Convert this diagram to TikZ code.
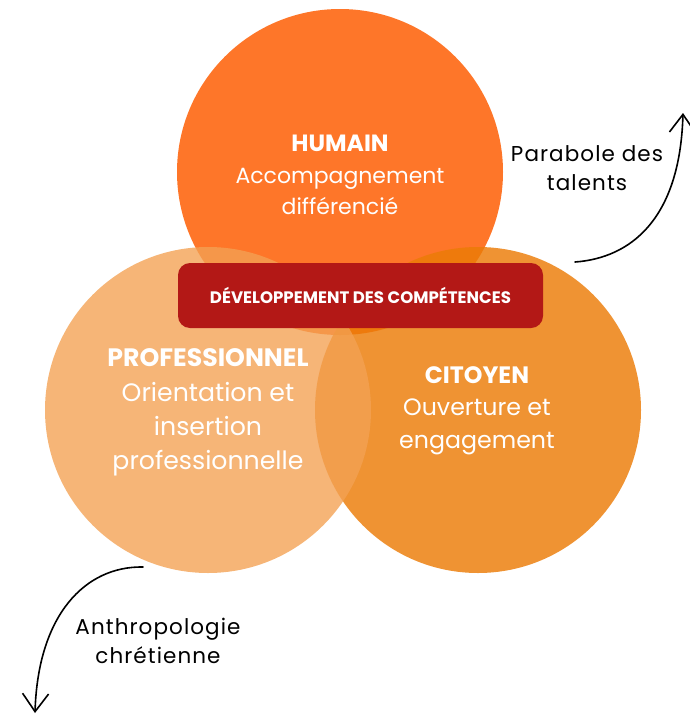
\documentclass[tikz,border=0pt]{standalone}
\usepackage{fontspec}
\setmainfont{Poppins}
\usetikzlibrary{arrows.meta}
\definecolor{humain-orange}{HTML}{FE7629}
\definecolor{citoyen-orange}{HTML}{EB7B06}
\definecolor{pro-peach}{HTML}{F3A153}
\definecolor{banner-red}{HTML}{B31816}
\newcommand{\venntitle}[2][]{{#1\bfseries #2}}
\tikzset{
  venn-circle/.style={circle, minimum size=326pt, inner sep=0pt, draw=none},
  venn-text/.style 2 args={align=center, text=white, font=\fontsize{#1}{#2}\selectfont},
  banner/.style={rounded corners=12pt, fill=banner-red, text=white,
    minimum width=365pt, minimum height=65pt, inner sep=0pt,
    font=\fontsize{16.6}{18}\selectfont\bfseries},
  side-note/.style={align=center, font=\fontsize{21.5}{28.5}\selectfont\addfontfeatures{LetterSpace=5}},
  side-path/.style={line width=1.6pt, line cap=round,
    -{Straight Barb[length=18pt, width=26pt]}},
}
\begin{document}
\begin{tikzpicture}[x=1pt, y=-1pt]
\useasboundingbox (0,0) rectangle (690,715);
% circles
\node[venn-circle, fill=humain-orange] (humain) at (340,172) {};
\node[venn-circle, fill=citoyen-orange, fill opacity=0.82] (citoyen) at (478,410) {};
\node[venn-circle, fill=pro-peach, fill opacity=0.79] (pro) at (208,410) {};
% banner
\node[banner] (competences) at (360.5,295.5) {DÉVELOPPEMENT DES COMPÉTENCES};
% circle texts
\node[venn-text={22}{31.5}] (humain-text) at (340,175) {\venntitle[\fontsize{23.5}{31.5}\selectfont]{HUMAIN}\\Accompagnement\\différencié};
\node[venn-text={25.2}{34.3}] (pro-text) at (208,412.5) {\venntitle{PROFESSIONNEL}\\Orientation et\\insertion\\professionnelle};
\node[venn-text={23.7}{32.5}] (citoyen-text) at (477,410.5) {\venntitle{CITOYEN}\\Ouverture et\\engagement};
% side notes
\node[side-note] (parabole) at (587,168) {Parabole des\\talents};
\node[side-note] (anthropo) at (158,641) {Anthropologie\\chrétienne};
\coordinate (parabole-start) at (575,262);
\coordinate (parabole-end) at (683,113);
\draw[side-path] (parabole-start) .. controls (630,258) and (680,220) .. (parabole-end);
\coordinate (anthropo-start) at (143,567);
\coordinate (anthropo-end) at (35,713);
\draw[side-path] (anthropo-start) .. controls (85,566) and (38,615) .. (anthropo-end);
\end{tikzpicture}
\end{document}
